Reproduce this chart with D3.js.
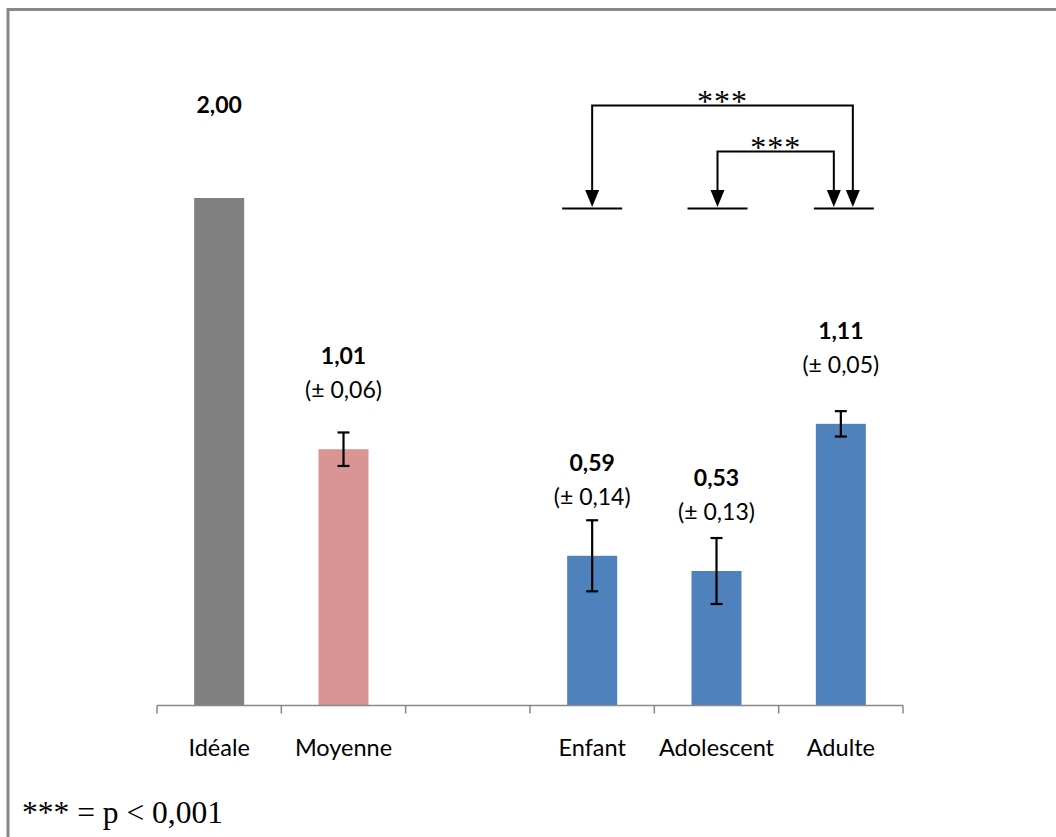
<!DOCTYPE html>
<html>
<head>
<meta charset="utf-8">
<script src="https://cdn.jsdelivr.net/npm/d3@7"></script>
<style>
  html, body { margin: 0; padding: 0; background: #fff; }
  svg { display: block; }
</style>
</head>
<body>
<svg id="chart" width="1056" height="837"></svg>
<script>
// ---- Data ----
const categories = ["Idéale", "Moyenne", "", "Enfant", "Adolescent", "Adulte"];
const barCategories = ["Idéale", "Moyenne", "Enfant", "Adolescent", "Adulte"];
const barValues = [2.00, 1.01, 0.59, 0.53, 1.11];
const barErrors = [0, 0.066, 0.14, 0.13, 0.05];
const errorLabels = ["", "(± 0,06)", "(± 0,14)", "(± 0,13)", "(± 0,05)"];
const barColors = ["#808080", "#D99594", "#4F81BD", "#4F81BD", "#4F81BD"];
const compFrom = ["Enfant", "Adolescent"];
const compTo = ["Adulte", "Adulte"];
const compLabels = ["***", "***"];
const footnote = "*** = p < 0,001";

// ---- Layout ----
const svg = d3.select("#chart");
const keys = categories.map((c, i) => c === "" ? "__gap" + i : c);
const x = d3.scaleBand().domain(keys).range([157, 903]).paddingInner(0).paddingOuter(0);
const y = d3.scaleLinear().domain([0, 2]).range([705.5, 198]);
const barW = 50;
const labelFont = "Lato, 'Open Sans', sans-serif";
const serifFont = "'Liberation Serif', 'Times New Roman', serif";
const fmt = v => d3.format(".2f")(v).replace(".", ",");
const cx = c => x(c) + x.bandwidth() / 2;

// Frame (top and left edges visible)
svg.append("path")
  .attr("d", "M8,837 L8,9.5 L1056,9.5")
  .attr("fill", "none").attr("stroke", "#888888").attr("stroke-width", 3);

// Bars
const bars = barCategories.map((c, i) => ({c, v: barValues[i], e: barErrors[i], lab: errorLabels[i], col: barColors[i]}));
svg.selectAll("rect.bar").data(bars).enter().append("rect")
  .attr("class", "bar")
  .attr("x", d => cx(d.c) - barW / 2)
  .attr("width", barW)
  .attr("y", d => y(d.v))
  .attr("height", d => y(0) - y(d.v))
  .attr("fill", d => d.col);

// Error bars
const eb = svg.selectAll("g.err").data(bars.filter(d => d.e > 0)).enter().append("g").attr("class", "err")
  .attr("stroke", "#000").attr("stroke-width", 2.2);
eb.append("line").attr("x1", d => cx(d.c)).attr("x2", d => cx(d.c))
  .attr("y1", d => y(d.v + d.e)).attr("y2", d => y(d.v - d.e));
eb.append("line").attr("x1", d => cx(d.c) - 6).attr("x2", d => cx(d.c) + 6)
  .attr("y1", d => y(d.v + d.e)).attr("y2", d => y(d.v + d.e));
eb.append("line").attr("x1", d => cx(d.c) - 6).attr("x2", d => cx(d.c) + 6)
  .attr("y1", d => y(d.v - d.e)).attr("y2", d => y(d.v - d.e));

// Value labels
svg.selectAll("text.val").data(bars).enter().append("text")
  .attr("class", "val")
  .attr("x", d => cx(d.c)).attr("y", d => y(d.v) - 85)
  .attr("text-anchor", "middle")
  .attr("font-family", labelFont).attr("font-size", 23).attr("font-weight", "bold")
  .attr("fill", "#000")
  .text(d => fmt(d.v));
svg.selectAll("text.errlab").data(bars.filter(d => d.lab)).enter().append("text")
  .attr("class", "errlab")
  .attr("x", d => cx(d.c)).attr("y", d => y(d.v) - 51)
  .attr("text-anchor", "middle")
  .attr("font-family", labelFont).attr("font-size", 23)
  .attr("fill", "#000")
  .text(d => d.lab);

// X axis
const axis = svg.append("g").attr("transform", `translate(0,${y(0)})`)
  .call(d3.axisBottom(x).tickSize(0).tickFormat(k => k.startsWith("__gap") ? "" : k));
axis.select(".domain").attr("stroke", "#888888").attr("stroke-width", 1.5)
  .attr("d", `M${x.range()[0]},0H${x.range()[1]}`);
axis.selectAll(".tick text")
  .attr("font-family", labelFont).attr("font-size", 23.5).attr("fill", "#000")
  .attr("dy", null).attr("y", 50.5);
// Tick marks at band boundaries
const bounds = keys.map(k => x(k)).concat([x.range()[1]]);
axis.selectAll("line.bnd").data(bounds).enter().append("line")
  .attr("class", "bnd")
  .attr("x1", d => d).attr("x2", d => d).attr("y1", 0).attr("y2", 8)
  .attr("stroke", "#888888").attr("stroke-width", 1.5);

// Significance annotations
const baseY = 208.5, tipY = 207, headH = 17, headHW = 7;
const annot = svg.append("g");
const compGroups = ["Enfant", "Adolescent", "Adulte"];
const baseOffset = {"Enfant": 0, "Adolescent": 1, "Adulte": 3};
annot.selectAll("line.base").data(compGroups).enter().append("line")
  .attr("x1", d => cx(d) + baseOffset[d] - 30).attr("x2", d => cx(d) + baseOffset[d] + 30)
  .attr("y1", baseY).attr("y2", baseY)
  .attr("stroke", "#000").attr("stroke-width", 2);

const brackets = compFrom.map((f, i) => ({
  x1: cx(f) + (i === 0 ? 0 : 1),
  x2: cx(compTo[i]) + (i === 0 ? 12 : -7),
  top: i === 0 ? 105.5 : 151.5,
  label: compLabels[i]
}));
brackets.forEach(b => {
  annot.append("path")
    .attr("d", `M${b.x1},${tipY - headH} V${b.top} H${b.x2} V${tipY - headH}`)
    .attr("fill", "none").attr("stroke", "#000").attr("stroke-width", 2);
  [b.x1, b.x2].forEach(ax => {
    annot.append("path")
      .attr("d", `M${ax - headHW},${tipY - headH} L${ax + headHW},${tipY - headH} L${ax},${tipY} Z`)
      .attr("fill", "#000");
  });
  annot.append("text")
    .attr("x", (b.x1 + b.x2) / 2).attr("y", b.top + 6)
    .attr("text-anchor", "middle")
    .attr("font-family", serifFont)
    .attr("font-size", 32).attr("letter-spacing", 1).attr("fill", "#000")
    .text(b.label);
});

// Footnote
svg.append("text")
  .attr("x", 22).attr("y", 823)
  .attr("font-family", serifFont)
  .attr("font-size", 31.5).attr("fill", "#000")
  .text(footnote);
</script>
</body>
</html>
